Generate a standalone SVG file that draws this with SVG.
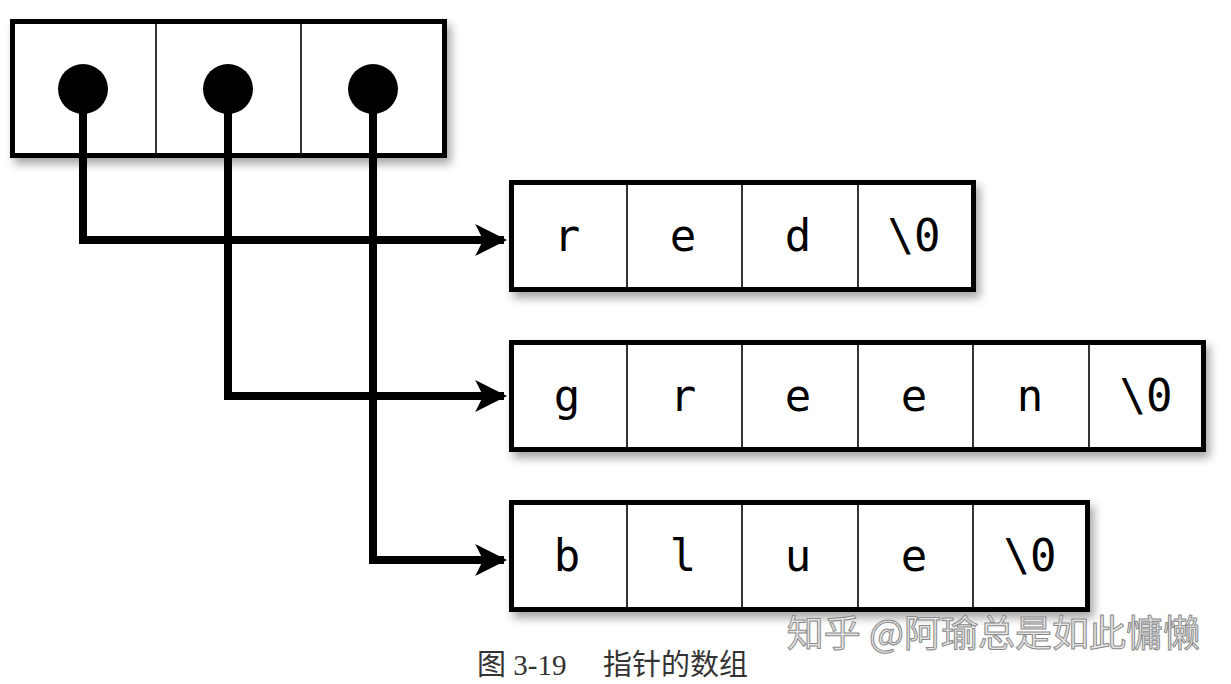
<svg xmlns="http://www.w3.org/2000/svg" width="1231" height="684" viewBox="0 0 1231 684">
<defs>
<filter id="sh" x="-5%" y="-10%" width="115%" height="140%">
<feDropShadow dx="4" dy="6" stdDeviation="5" flood-color="#000" flood-opacity="0.35"/>
</filter>
<marker id="ah" viewBox="0 0 10 10" refX="9" refY="5" markerWidth="4" markerHeight="4.2" orient="auto" markerUnits="strokeWidth">
<path d="M0,0 L10,5 L0,10 L2.5,5 Z" fill="#000"/>
</marker>
<style>
.box{fill:#fff;stroke:#000;stroke-width:5}
.div{stroke:#000;stroke-width:1.6}
.ch{font-family:"DejaVu Sans Mono","Liberation Mono",monospace;font-size:44px;fill:#000;text-anchor:middle}
.wire{fill:none;stroke:#000;stroke-width:8;stroke-linejoin:miter}
.dot{fill:#000}
</style>
</defs>
<rect width="1231" height="684" fill="#fff"/>

<g id="pointers">
<rect class="box" x="12.5" y="21.5" width="432" height="134" filter="url(#sh)"/>
<line class="div" x1="156" y1="24" x2="156" y2="153"/>
<line class="div" x1="301" y1="24" x2="301" y2="153"/>
</g>

<g id="red">
<rect class="box" x="511.5" y="182.5" width="462" height="107" filter="url(#sh)"/>
<line class="div" x1="627" y1="185" x2="627" y2="287"/>
<line class="div" x1="742" y1="185" x2="742" y2="287"/>
<line class="div" x1="858" y1="185" x2="858" y2="287"/>
<text class="ch" x="567" y="251">r</text>
<text class="ch" x="683" y="251">e</text>
<text class="ch" x="798" y="251">d</text>
<text class="ch" x="914" y="251">\0</text>
</g>

<g id="green">
<rect class="box" x="511.5" y="342.5" width="692" height="107" filter="url(#sh)"/>
<line class="div" x1="627" y1="345" x2="627" y2="447"/>
<line class="div" x1="742" y1="345" x2="742" y2="447"/>
<line class="div" x1="858" y1="345" x2="858" y2="447"/>
<line class="div" x1="973" y1="345" x2="973" y2="447"/>
<line class="div" x1="1089" y1="345" x2="1089" y2="447"/>
<text class="ch" x="567" y="411">g</text>
<text class="ch" x="683" y="411">r</text>
<text class="ch" x="798" y="411">e</text>
<text class="ch" x="914" y="411">e</text>
<text class="ch" x="1030" y="411">n</text>
<text class="ch" x="1146" y="411">\0</text>
</g>

<g id="blue">
<rect class="box" x="511.5" y="502.5" width="576" height="107" filter="url(#sh)"/>
<line class="div" x1="627" y1="505" x2="627" y2="607"/>
<line class="div" x1="742" y1="505" x2="742" y2="607"/>
<line class="div" x1="858" y1="505" x2="858" y2="607"/>
<line class="div" x1="973" y1="505" x2="973" y2="607"/>
<text class="ch" x="567" y="571">b</text>
<text class="ch" x="683" y="571">l</text>
<text class="ch" x="798" y="571">u</text>
<text class="ch" x="914" y="571">e</text>
<text class="ch" x="1030" y="571">\0</text>
</g>

<g id="connectors">
<path class="wire" d="M83,89 V240 H504" marker-end="url(#ah)"/>
<path class="wire" d="M228,89 V396 H504" marker-end="url(#ah)"/>
<path class="wire" d="M373,89 V560 H504" marker-end="url(#ah)"/>
<circle class="dot" cx="83" cy="89" r="25"/>
<circle class="dot" cx="228" cy="89" r="25"/>
<circle class="dot" cx="373" cy="89" r="25"/>
</g>

<text x="1200" y="647" text-anchor="end" font-family="'Noto Sans CJK SC',sans-serif" font-size="37" fill="#e6e6e6" stroke="#8a8a8a" stroke-width="1">知乎 @阿瑜总是如此慵懒</text>
<text x="477" y="675" font-family="'Liberation Serif','Noto Sans CJK SC',serif" font-size="29" fill="#333">图 3-19<tspan x="603">指针的数组</tspan></text>
</svg>
